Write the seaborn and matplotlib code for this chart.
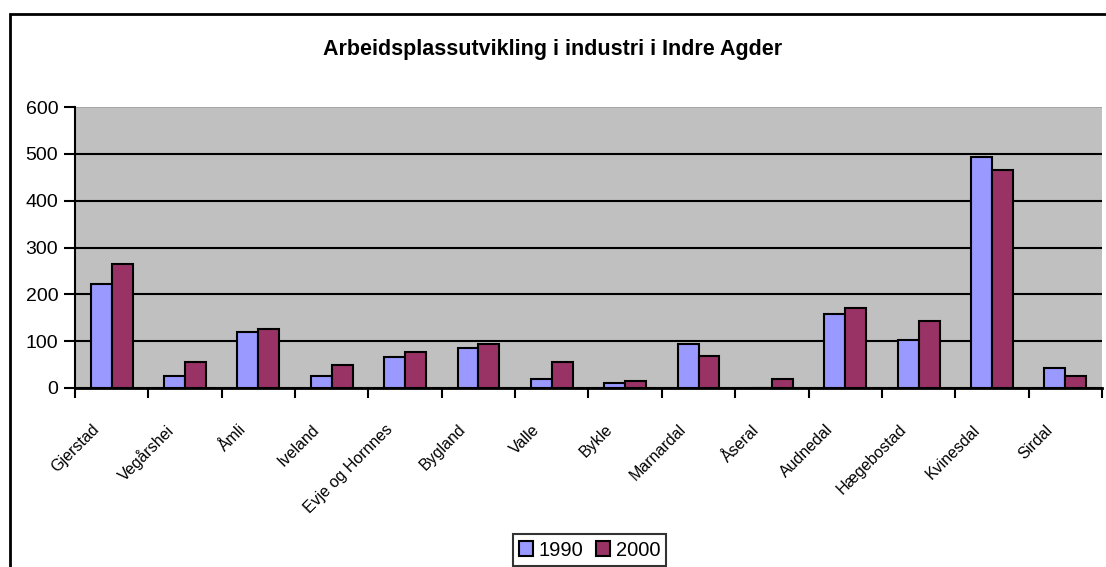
import numpy as np
import pandas as pd
import matplotlib
matplotlib.use("Agg")
import matplotlib.pyplot as plt
import matplotlib.transforms as mtransforms
from matplotlib.patches import Rectangle
import seaborn as sns

# data
kommuner = ["Gjerstad", "Vegårshei", "Åmli", "Iveland", "Evje og Hornnes",
            "Bygland", "Valle", "Bykle", "Marnardal", "Åseral", "Audnedal",
            "Hægebostad", "Kvinesdal", "Sirdal"]
years = ["1990", "2000"]
jobs_1990 = [221, 25, 119, 25, 67, 85, 20, 11, 93, 0, 157, 102, 494, 42]
jobs_2000 = [265, 55, 127, 50, 76, 93, 55, 16, 68, 20, 170, 144, 465, 25]
y_ticks = [0, 100, 200, 300, 400, 500, 600]
title = "Arbeidsplassutvikling i industri i Indre Agder"

df = pd.DataFrame({
    "kommune": kommuner * 2,
    "year": [years[0]] * len(kommuner) + [years[1]] * len(kommuner),
    "jobs": jobs_1990 + jobs_2000,
})

sns.set_theme(style="white")
plt.rcParams["font.family"] = ["Liberation Sans", "DejaVu Sans"]
plt.rcParams["text.color"] = "black"
plt.rcParams["xtick.color"] = "black"
plt.rcParams["ytick.color"] = "black"

fig = plt.figure(figsize=(11.06, 5.67), dpi=100)
ax = fig.add_axes([75 / 1106, 1 - 388 / 567, 1027 / 1106, 281 / 567])
ax.set_facecolor("#C0C0C0")

sns.barplot(data=df, x="kommune", y="jobs", hue="year",
            palette={"1990": "#9999FF", "2000": "#993366"},
            width=0.57, gap=0, edgecolor="black", linewidth=1.5,
            saturation=1, ax=ax)

ax.set_xlim(-0.5, len(kommuner) - 0.5)
ax.set_ylim(0, 600)
ax.set_yticks(y_ticks)
ax.set_xlabel("")
ax.set_ylabel("")

# gridlines at each 100, hidden at the top
ax.yaxis.grid(True, color="black", linewidth=1.5)
ax.set_axisbelow(True)
ax.get_ygridlines()[-1].set_visible(False)

for side in ["top", "right"]:
    ax.spines[side].set_visible(False)
ax.spines["left"].set_color("black")
ax.spines["bottom"].set_color("black")
ax.spines["left"].set_linewidth(1.5)
ax.spines["bottom"].set_linewidth(2)
ax.axhline(600, color="#A0A0A0", linewidth=1.2, zorder=0.5)

ax.tick_params(axis="y", direction="out", length=8, width=1.5,
               labelsize=14, pad=4, left=True)
ax.set_xticks(np.arange(-0.5, len(kommuner), 1), minor=True)
ax.tick_params(axis="x", which="minor", direction="out", length=7, width=1.5,
               bottom=True)
ax.tick_params(axis="x", which="major", length=0, labelsize=11.5, pad=0)

offset = mtransforms.ScaledTranslation(-20 / 100, -34 / 100, fig.dpi_scale_trans)
for lbl in ax.get_xticklabels():
    lbl.set_rotation(45)
    lbl.set_ha("right")
    lbl.set_va("top")
    lbl.set_rotation_mode("anchor")
    lbl.set_transform(lbl.get_transform() + offset)

# legend below the plot, centred on the plot area
handles, labels = ax.get_legend_handles_labels()
ax.get_legend().remove()
leg = fig.legend(handles, labels, loc="center", ncol=2,
                 bbox_to_anchor=(589.5 / 1106, 1 - 550 / 567),
                 fontsize=14.5, frameon=True, fancybox=False,
                 handlelength=0.7, handleheight=0.7, handletextpad=0.3,
                 columnspacing=0.6, borderpad=0.3, borderaxespad=0)
leg.get_frame().set_edgecolor("black")
leg.get_frame().set_linewidth(1.5)

fig.text(553 / 1106, 1 - 50 / 567, title, ha="center", va="center",
         fontsize=15.5, fontweight="bold")

# outer chart frame, running off the right and bottom edges
fig.patches.append(Rectangle((10 / 1106, -0.05), 1.2, 1 - 14 / 567 + 0.05,
                             transform=fig.transFigure, fill=False,
                             edgecolor="black", linewidth=2))

fig.savefig("out.png", dpi=100)
